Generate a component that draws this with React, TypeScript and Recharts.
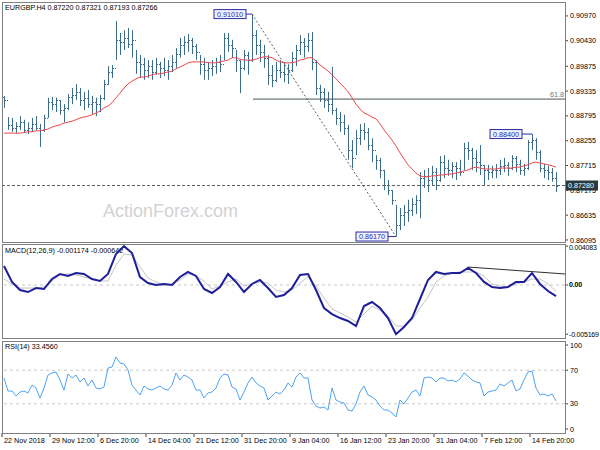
import React from "react";
import {
  Bar,
  ComposedChart,
  Line,
  ReferenceDot,
  ReferenceLine,
  XAxis,
  YAxis,
} from "recharts";

// H4 bars (one value per bar)
const highs = [
  0.8923, 0.8877, 0.8875, 0.8866, 0.8879, 0.8871, 0.8866, 0.8875, 0.8879, 0.8862,
  0.8882, 0.8919, 0.8921, 0.8919, 0.8914, 0.8905, 0.8927, 0.894, 0.8949, 0.894,
  0.8932, 0.8936, 0.8923, 0.8919, 0.8925, 0.8958, 0.8988, 0.899, 0.9086, 0.906,
  0.9066, 0.9071, 0.9066, 0.9023, 0.9012, 0.9006, 0.9001, 0.9001, 0.9006, 0.8997,
  0.9006, 0.9001, 0.9012, 0.9027, 0.9049, 0.9053, 0.9058, 0.9049, 0.9036, 0.9012,
  0.9006, 0.8997, 0.9001, 0.9006, 0.9012, 0.906, 0.906, 0.9045, 0.9023, 0.9001,
  0.9023, 0.9019, 0.9101, 0.9066, 0.9045, 0.9034, 0.9012, 0.899, 0.8997, 0.9001,
  0.8997, 0.8992, 0.9019, 0.9034, 0.9055, 0.9049, 0.906, 0.9062, 0.9001, 0.8947,
  0.894, 0.8932, 0.8986, 0.8897, 0.8888, 0.8882, 0.886, 0.8827, 0.8849, 0.8862,
  0.8864, 0.8853, 0.8831, 0.8794, 0.8788, 0.8762, 0.874, 0.8718, 0.8686, 0.8679,
  0.8686, 0.8697, 0.8701, 0.8707, 0.8757, 0.8762, 0.8766, 0.8771, 0.8766, 0.8792,
  0.8794, 0.8784, 0.8779, 0.8779, 0.8784, 0.8821, 0.8823, 0.881, 0.8805, 0.8816,
  0.8773, 0.8773, 0.8771, 0.8775, 0.8784, 0.8788, 0.8779, 0.8794, 0.8792, 0.8784,
  0.8775, 0.8827, 0.884, 0.8831, 0.8805, 0.8775, 0.8771, 0.8766, 0.8757,
];
const lows = [
  0.8897, 0.8849, 0.8845, 0.8842, 0.8849, 0.8842, 0.884, 0.8845, 0.8849, 0.8812,
  0.8845, 0.8875, 0.8892, 0.8888, 0.8882, 0.8866, 0.8892, 0.8905, 0.8914, 0.8901,
  0.8892, 0.8897, 0.8884, 0.8879, 0.8888, 0.8914, 0.8947, 0.8962, 0.9001, 0.9012,
  0.9023, 0.9027, 0.9006, 0.8971, 0.8962, 0.8958, 0.8962, 0.8958, 0.8969, 0.8962,
  0.8966, 0.8958, 0.8975, 0.8984, 0.9006, 0.9012, 0.9019, 0.9014, 0.9001, 0.8969,
  0.8958, 0.8958, 0.8966, 0.8971, 0.8975, 0.9001, 0.9019, 0.9006, 0.8975, 0.8929,
  0.8979, 0.8969, 0.8997, 0.9012, 0.8997, 0.8984, 0.8947, 0.8942, 0.8953, 0.8962,
  0.8953, 0.8949, 0.8975, 0.8988, 0.9012, 0.9006, 0.9019, 0.8979, 0.8925, 0.891,
  0.8897, 0.8888, 0.8882, 0.886, 0.8845, 0.8838, 0.8784, 0.8766, 0.8794, 0.8816,
  0.8827, 0.8805, 0.8779, 0.8762, 0.8744, 0.8718, 0.8707, 0.8686, 0.8617, 0.8631,
  0.864, 0.8649, 0.8662, 0.8666, 0.8657, 0.8723, 0.8714, 0.8727, 0.8718, 0.8736,
  0.8744, 0.8749, 0.8744, 0.874, 0.8749, 0.8762, 0.8784, 0.8762, 0.8757, 0.8751,
  0.8729, 0.874, 0.8744, 0.8744, 0.8751, 0.8757, 0.8749, 0.8762, 0.8757, 0.8751,
  0.8749, 0.8762, 0.8805, 0.8784, 0.8757, 0.8744, 0.874, 0.8736, 0.8714,
];
const closes = [
  0.8914, 0.886, 0.8853, 0.8858, 0.8866, 0.8849, 0.8853, 0.8862, 0.8853, 0.8849,
  0.8875, 0.891, 0.8905, 0.8914, 0.8892, 0.8897, 0.8921, 0.8925, 0.8932, 0.8914,
  0.8919, 0.8905, 0.891, 0.8905, 0.8919, 0.8949, 0.8975, 0.8984, 0.9045, 0.904,
  0.9049, 0.9036, 0.9045, 0.8997, 0.8992, 0.8979, 0.8988, 0.8975, 0.8992, 0.8984,
  0.8979, 0.8988, 0.8997, 0.9014, 0.9034, 0.904, 0.9045, 0.9032, 0.9019, 0.8992,
  0.8979, 0.8984, 0.8988, 0.8997, 0.8992, 0.9049, 0.9034, 0.9027, 0.9001, 0.8984,
  0.9012, 0.9001, 0.9055, 0.9034, 0.9019, 0.9006, 0.8969, 0.8958, 0.8979, 0.8975,
  0.8971, 0.8979, 0.9006, 0.9023, 0.904, 0.9032, 0.9045, 0.8997, 0.894, 0.8932,
  0.8914, 0.8905, 0.8892, 0.8875, 0.8866, 0.8853, 0.8805, 0.8788, 0.8831, 0.8849,
  0.8845, 0.8816, 0.8805, 0.8784, 0.8762, 0.8729, 0.8718, 0.8697, 0.8642, 0.8664,
  0.867, 0.8675, 0.8688, 0.8697, 0.8744, 0.8749, 0.874, 0.8757, 0.874, 0.8779,
  0.8766, 0.8762, 0.8771, 0.8766, 0.8757, 0.881, 0.8805, 0.8788, 0.8779, 0.8773,
  0.8762, 0.8757, 0.8762, 0.8762, 0.8771, 0.8773, 0.8766, 0.8788, 0.8775, 0.8762,
  0.8766, 0.8823, 0.8827, 0.8801, 0.8766, 0.8762, 0.8757, 0.8744, 0.8727,
];
const firstOpen = 0.892;

// red moving average
const maValues = [
  0.8842, 0.8842, 0.8842, 0.8842, 0.8842, 0.8843, 0.8845, 0.8845, 0.8847, 0.8847,
  0.8849, 0.8851, 0.8855, 0.8858, 0.886, 0.8864, 0.8866, 0.8868, 0.8871, 0.8875,
  0.8877, 0.8879, 0.8882, 0.8886, 0.889, 0.8897, 0.8901, 0.8908, 0.8919, 0.8929,
  0.894, 0.8949, 0.8955, 0.896, 0.8964, 0.8964, 0.8966, 0.8969, 0.8971, 0.8971,
  0.8973, 0.8975, 0.8977, 0.8982, 0.8986, 0.899, 0.8995, 0.8997, 0.8997, 0.8997,
  0.8997, 0.8995, 0.8995, 0.8995, 0.8997, 0.8999, 0.9001, 0.9006, 0.9006, 0.9003,
  0.9001, 0.9001, 0.9001, 0.9003, 0.9006, 0.9008, 0.9008, 0.9006, 0.9001, 0.8997,
  0.8995, 0.8995, 0.8995, 0.8997, 0.9001, 0.9003, 0.9006, 0.9006, 0.8999, 0.899,
  0.8984, 0.8977, 0.8969, 0.896, 0.8951, 0.8942, 0.8932, 0.8919, 0.8905, 0.8894,
  0.8886, 0.8882, 0.8877, 0.8873, 0.8862, 0.8849, 0.8838, 0.8827, 0.8814, 0.8799,
  0.8786, 0.8773, 0.8764, 0.8755, 0.8749, 0.8747, 0.8747, 0.8749, 0.8749, 0.8751,
  0.8751, 0.8753, 0.8753, 0.8755, 0.8757, 0.876, 0.8762, 0.8766, 0.8768, 0.8766,
  0.8764, 0.8764, 0.8764, 0.8764, 0.8766, 0.8766, 0.8766, 0.8766, 0.8768, 0.8768,
  0.8771, 0.8773, 0.8777, 0.8779, 0.8777, 0.8775, 0.8773, 0.8771, 0.8768,
];

// RSI(14), one value per bar
const rsiValues = [
  60.7, 45.2, 45.2, 39.3, 44.0, 45.2, 42.9, 52.4, 48.8, 36.9,
  48.8, 64.3, 66.7, 67.9, 58.3, 46.4, 65.5, 60.7, 64.3, 56.0,
  60.7, 51.2, 58.3, 48.8, 47.6, 50.0, 72.6, 73.8, 85.7, 78.6,
  77.4, 70.2, 52.4, 46.4, 40.5, 51.2, 47.6, 46.4, 48.8, 51.2,
  47.6, 46.4, 52.4, 66.7, 58.3, 64.3, 61.9, 58.3, 46.4, 46.4,
  36.9, 42.9, 44.0, 48.8, 60.7, 65.5, 64.3, 50.0, 47.6, 34.5,
  44.0, 54.8, 61.9, 54.8, 51.2, 48.8, 34.5, 39.3, 44.0, 41.7,
  46.4, 54.8, 50.0, 61.9, 66.7, 60.7, 60.7, 34.5, 27.4, 25.0,
  26.2, 22.6, 48.8, 34.5, 32.1, 31.0, 22.6, 21.4, 29.8, 44.0,
  51.2, 40.5, 38.1, 34.5, 27.4, 22.6, 22.6, 19.0, 14.3, 34.5,
  29.8, 36.9, 44.0, 46.4, 39.3, 60.7, 61.9, 60.7, 56.0, 60.7,
  60.7, 57.1, 58.3, 56.0, 59.5, 66.7, 63.1, 58.3, 56.0, 54.8,
  39.3, 44.0, 45.2, 46.4, 53.6, 51.2, 54.8, 58.3, 45.2, 47.6,
  58.3, 67.9, 69.0, 48.8, 40.5, 41.7, 39.3, 41.7, 33.5,
];

// MACD(12,26,9), every second bar
const macdMain = [
  0.002, 0.00032, -0.00053, -0.00074, -0.00032, -0.00042, 0.00063, 0.00116, 0.00095, 0.00126,
  0.00116, 0.00063, 0.00042, 0.00116, 0.00326, 0.004083, 0.00336, 0.00084, 0.00021, 0.0,
  0.00011, 0.0, 0.00084, 0.00137, 0.00095, -0.00042, -0.00084, -0.00021, 0.00116, 0.00032,
  -0.00074, 0.00011, 0.00053, -0.00032, -0.00126, -0.00105, -0.00032, 0.00105, 0.00116, -0.00053,
  -0.00242, -0.00305, -0.00347, -0.00378, -0.00431, -0.00221, -0.00179, -0.00242, -0.00347, -0.005169,
  -0.00441, -0.00347, -0.00147, 0.00053, 0.00137, 0.00116, 0.00126, 0.00126, 0.00179, 0.00126,
  0.00032, -0.00021, -0.00032, -0.00021, 0.00032, 0.00032, 0.00126, 0.00011, -0.00063, -0.001174,
];
const macdSignal = [
  0.00063, 0.00011, -0.00032, -0.00032, -0.00032, -0.00021, 0.00042, 0.00105, 0.00116, 0.00105,
  0.00084, 0.00063, 0.00042, 0.00042, 0.0021, 0.00326, 0.00315, 0.00189, 0.00074, 0.00032,
  0.0, 0.00011, 0.00053, 0.00116, 0.00095, 0.00042, -0.00042, -0.00011, 0.00032, 0.00063,
  -0.00011, 0.00011, 0.00032, 0.00021, -0.00053, -0.00074, -0.00053, 0.00021, 0.00084, -0.00011,
  -0.00137, -0.00252, -0.00294, -0.00336, -0.00389, -0.00305, -0.00221, -0.00263, -0.00326, -0.00431,
  -0.00431, -0.00368, -0.00242, -0.00126, 0.00032, 0.00095, 0.00126, 0.00137, 0.00137, 0.00137,
  0.00095, 0.00011, -0.00011, -0.00021, 0.00011, 0.00032, 0.00063, 0.00063, 0.00011, -0.000642,
];

const priceTicks = [
  0.86095, 0.86635, 0.87175, 0.87715, 0.88255, 0.88795, 0.89335, 0.89875, 0.9043, 0.9097,
];
const macdTicks = [0.004083, 0, -0.005169];
const rsiTicks = [0, 30, 70, 100];
const timeLabels = [
  "22 Nov 2018", "29 Nov 12:00", "6 Dec 20:00", "14 Dec 04:00", "21 Dec 12:00", "31 Dec 20:00",
  "9 Jan 04:00", "16 Jan 12:00", "23 Jan 20:00", "31 Jan 04:00", "7 Feb 12:00", "14 Feb 20:00",
];
const timeTickIdx = timeLabels.map((_, k) => -0.5 + 12 * k);

const swingHigh = { i: 62, price: 0.9101, label: "0.91010" };
const swingLow = { i: 98, price: 0.8617, label: "0.86170" };
const recentHigh = { i: 132, price: 0.884, label: "0.88400" };
const fib618 = 0.89161;
const lastPrice = 0.8728;

const FONT = "'Liberation Sans', Arial, sans-serif";
const FS = 7.2;
const BAR_COLOR = "#3d6c8a";
const TAG_COLOR = "#2c2ca0";
const X_DOMAIN: [number, number] = [-0.5, 140.25];

const bars = highs.map((high, i) => ({
  i,
  high,
  low: lows[i],
  open: i === 0 ? firstOpen : closes[i - 1],
  close: closes[i],
  ma: maValues[i],
}));
const macdData = macdMain.map((v, j) => ({ i: j * 2, macd: v, signal: macdSignal[j] }));
const rsiData = rsiValues.map((v, i) => ({ i, rsi: v }));

const OhlcBar = (props: any) => {
  const { x, y, width, height, payload } = props;
  if (!payload || x == null || y == null) return null;
  const cx = Math.round(x + width / 2);
  const top = Math.min(y, y + height);
  const h = Math.max(1, Math.abs(height));
  const span = payload.high - payload.low || 1;
  const py = (v: number) => Math.round(top + ((payload.high - v) / span) * h);
  return (
    <g fill={BAR_COLOR}>
      <rect x={cx} y={top} width={1} height={h} />
      <rect x={cx - 1} y={py(payload.open)} width={1} height={1} />
      <rect x={cx + 1} y={py(payload.close)} width={1} height={1} />
    </g>
  );
};

const priceTag = (text: string, gap: number) => (props: any) => {
  const { cx, cy } = props;
  const w = 32;
  const h = 9;
  const right = cx - gap;
  return (
    <g>
      <line x1={right} x2={cx} y1={cy} y2={cy} stroke={TAG_COLOR} />
      <rect
        x={right - w}
        y={cy - h / 2}
        width={w}
        height={h}
        fill="#eef0ff"
        stroke={TAG_COLOR}
      />
      <text
        x={right - w / 2}
        y={cy + 2.6}
        textAnchor="middle"
        fontSize={FS}
        fontFamily={FONT}
        fill={TAG_COLOR}
      >
        {text}
      </text>
    </g>
  );
};

// right price axis; the last price gets the dark box drawn over the grid label
const PriceTick = (props: any) => {
  const { x, y, payload } = props;
  if (payload.value === lastPrice) {
    return (
      <g>
        <rect x={x - 4} y={y - 5} width={32} height={10} fill="#283a3c" />
        <text x={x - 2} y={y + 2.6} fontSize={FS} fontFamily={FONT} fill="#fff">
          {lastPrice.toFixed(5)}
        </text>
      </g>
    );
  }
  return (
    <text x={x} y={y} dy="0.355em" fontSize={FS} fontFamily={FONT} fill="#000">
      {payload.value.toFixed(5)}
    </text>
  );
};

const MacdTick = (props: any) => {
  const { x, y, payload } = props;
  const v = payload.value;
  return (
    <text
      x={x}
      y={y}
      dy={v > 0 ? "0.6em" : "0.355em"}
      fontSize={7}
      letterSpacing={-0.2}
      fontFamily={FONT}
      fill="#000"
      fontWeight={v === 0 ? "bold" : "normal"}
    >
      {v === 0 ? "0.00" : String(v)}
    </text>
  );
};

const fibLabel = (props: any) => {
  const { viewBox } = props;
  return (
    <text
      x={viewBox.x + viewBox.width - 1}
      y={viewBox.y - 2}
      textAnchor="end"
      fontSize={FS}
      fontFamily={FONT}
      fill="#607888"
    >
      61.8
    </text>
  );
};

const TimeTick = (props: any) => {
  const { x, y, index } = props;
  return (
    <text x={x + 2} y={y + 6} fontSize={FS} fontFamily={FONT} fill="#000" textAnchor="start">
      {timeLabels[index]}
    </text>
  );
};

const axisTick = { fontSize: FS, fill: "#000", fontFamily: FONT };

const frame = (top: number, height: number): React.CSSProperties => ({
  position: "absolute",
  left: 2,
  top,
  width: 564,
  height,
  border: "1px solid #808080",
  boxSizing: "border-box",
  pointerEvents: "none",
});

export default function App() {
  return (
    <div
      style={{
        position: "absolute",
        left: 0,
        top: 0,
        width: 600,
        height: 450,
        background: "#fff",
        overflow: "hidden",
      }}
    >
      <svg width={600} height={450} style={{ position: "absolute", left: 0, top: 0 }}>
        <text x={103} y={217} fontSize={18} fontFamily={FONT} fill="#d2d2d2">
          ActionForex.com
        </text>
        <text x={5} y={10} fontSize={FS} fontFamily={FONT} fill="#000">
          EURGBP.H4  0.87220 0.87321 0.87193 0.87266
        </text>
        <text x={5} y={253} fontSize={FS} fontFamily={FONT} fill="#000">
          MACD(12,26,9) -0.001174 -0.000642
        </text>
        <text x={5} y={349} fontSize={FS} fontFamily={FONT} fill="#000">
          RSI(14) 33.4560
        </text>
      </svg>

      <div style={{ position: "absolute", left: 0, top: 0 }}>
        <ComposedChart
          width={600}
          height={245}
          data={bars}
          margin={{ top: 2, right: 0, bottom: 3, left: 2 }}
        >
          <XAxis type="number" dataKey="i" domain={X_DOMAIN} hide allowDataOverflow />
          <YAxis
            orientation="right"
            type="number"
            domain={[0.86051, 0.91273]}
            ticks={[...priceTicks, lastPrice]}
            interval={0}
            width={35}
            axisLine={false}
            tickSize={3}
            tickMargin={2}
            tickLine={{ stroke: "#404040" }}
            tick={<PriceTick />}
            allowDataOverflow
          />
          <ReferenceLine
            segment={[
              { x: swingHigh.i, y: swingHigh.price },
              { x: swingLow.i, y: swingLow.price },
            ]}
            stroke="#606060"
            strokeDasharray="2 2"
          />
          <ReferenceLine
            segment={[
              { x: swingHigh.i + 0.25, y: fib618 },
              { x: X_DOMAIN[1], y: fib618 },
            ]}
            stroke="#4a5656"
            label={fibLabel}
          />
          <Bar
            dataKey={(d: any) => [d.low, d.high]}
            barSize={3}
            shape={(p: any) => <OhlcBar {...p} />}
            isAnimationActive={false}
          />
          <Line
            dataKey="ma"
            type="linear"
            stroke="#f04848"
            strokeWidth={1}
            dot={false}
            isAnimationActive={false}
          />
          <ReferenceLine y={lastPrice} stroke="#606060" strokeDasharray="3 2" />
          <ReferenceDot
            x={swingHigh.i}
            y={swingHigh.price}
            ifOverflow="visible"
            shape={priceTag(swingHigh.label, 6)}
          />
          <ReferenceDot
            x={swingLow.i}
            y={swingLow.price}
            ifOverflow="visible"
            shape={priceTag(swingLow.label, 8)}
          />
          <ReferenceDot
            x={recentHigh.i}
            y={recentHigh.price}
            ifOverflow="visible"
            shape={priceTag(recentHigh.label, 10)}
          />
        </ComposedChart>
      </div>

      <div style={{ position: "absolute", left: 0, top: 242 }}>
        <ComposedChart
          width={600}
          height={98}
          data={macdData}
          margin={{ top: 2, right: 0, bottom: 2, left: 2 }}
        >
          <XAxis type="number" dataKey="i" domain={X_DOMAIN} hide allowDataOverflow />
          <YAxis
            orientation="right"
            type="number"
            domain={[-0.00557, 0.00431]}
            ticks={macdTicks}
            interval={0}
            width={35}
            axisLine={false}
            tickSize={3}
            tickMargin={1}
            tickLine={{ stroke: "#404040" }}
            tick={<MacdTick />}
            allowDataOverflow
          />
          <ReferenceLine y={0} stroke="#c8c8c8" strokeDasharray="3 3" />
          <Line
            dataKey="signal"
            type="linear"
            stroke="#c4c4c4"
            strokeWidth={1}
            dot={false}
            isAnimationActive={false}
          />
          <Line
            dataKey="macd"
            type="linear"
            stroke="#1e1e9a"
            strokeWidth={2}
            dot={false}
            isAnimationActive={false}
          />
          <ReferenceLine
            segment={[
              { x: 116, y: 0.00189 },
              { x: X_DOMAIN[1], y: 0.00116 },
            ]}
            stroke="#303030"
          />
        </ComposedChart>
      </div>

      <div style={{ position: "absolute", left: 0, top: 339 }}>
        <ComposedChart
          width={600}
          height={111}
          data={rsiData}
          margin={{ top: 2, right: 0, bottom: 0, left: 2 }}
        >
          <XAxis
            type="number"
            dataKey="i"
            domain={X_DOMAIN}
            ticks={timeTickIdx}
            interval={0}
            height={17}
            axisLine={false}
            tickSize={4}
            tickMargin={0}
            tickLine={{ stroke: "#404040" }}
            tick={<TimeTick />}
            allowDataOverflow
          />
          <YAxis
            orientation="right"
            type="number"
            domain={[-4.8, 104.8]}
            ticks={rsiTicks}
            interval={0}
            width={35}
            axisLine={false}
            tickSize={3}
            tickMargin={2}
            tickLine={{ stroke: "#404040" }}
            tick={axisTick}
            allowDataOverflow
          />
          <ReferenceLine y={70} stroke="#c8c8c8" strokeDasharray="3 3" />
          <ReferenceLine y={30} stroke="#c8c8c8" strokeDasharray="3 3" />
          <Line
            dataKey="rsi"
            type="linear"
            stroke="#4da3f5"
            strokeWidth={1}
            dot={false}
            isAnimationActive={false}
          />
        </ComposedChart>
      </div>

      <div style={frame(2, 241)} />
      <div style={frame(244, 95)} />
      <div style={frame(341, 93)} />
    </div>
  );
}
